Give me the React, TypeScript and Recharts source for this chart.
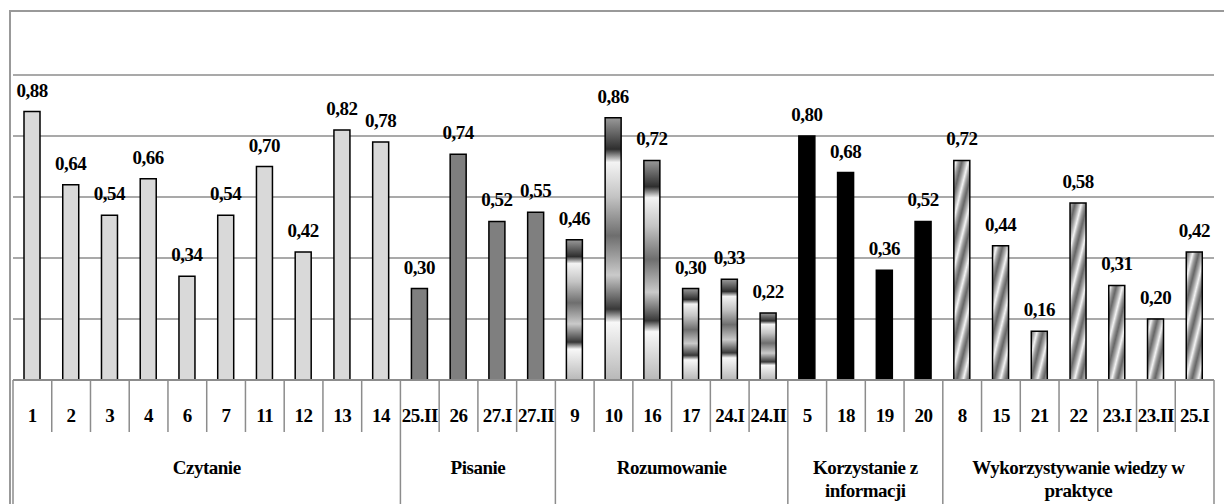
import React from "react";
import { Bar, BarChart, CartesianGrid, Cell, LabelList, XAxis, YAxis } from "recharts";

const itemLabels = [
  "1", "2", "3", "4", "6", "7", "11", "12", "13", "14",
  "25.II", "26", "27.I", "27.II",
  "9", "10", "16", "17", "24.I", "24.II",
  "5", "18", "19", "20",
  "8", "15", "21", "22", "23.I", "23.II", "25.I",
];
const itemValues = [
  0.88, 0.64, 0.54, 0.66, 0.34, 0.54, 0.7, 0.42, 0.82, 0.78,
  0.3, 0.74, 0.52, 0.55,
  0.46, 0.86, 0.72, 0.3, 0.33, 0.22,
  0.8, 0.68, 0.36, 0.52,
  0.72, 0.44, 0.16, 0.58, 0.31, 0.2, 0.42,
];
const groupNames = [
  "Czytanie",
  "Pisanie",
  "Rozumowanie",
  "Korzystanie z\ninformacji",
  "Wykorzystywanie wiedzy w\npraktyce",
];
const groupSizes = [10, 4, 6, 4, 7];
const groupFills = ["#d9d9d9", "#7f7f7f", "url(#gRoz)", "#000000", "url(#pDiag)"];
const yTicks = [0, 0.2, 0.4, 0.6, 0.8, 1];

const W = 1224;
const H = 504;
const AXIS_H = 124;
const M = { top: 75, right: 10, bottom: 0, left: 13 };
const BAND = (W - M.left - M.right) / itemLabels.length;
const FONT = "'Liberation Serif', 'Times New Roman', serif";
const LINE = "#8c8c8c";
const textStyle = { fontFamily: FONT, fontWeight: 700, fontSize: 19, letterSpacing: -0.5 };

// group index for each item, and first item of each group
const groupOf: number[] = [];
const groupStart: number[] = [];
groupSizes.forEach((n, g) => {
  groupStart.push(groupOf.length);
  for (let k = 0; k < n; k++) groupOf.push(g);
});

const data = itemLabels.map((label, i) => ({
  label,
  value: itemValues[i],
  group: groupOf[i],
}));

function GroupTick(props: any) {
  const { x, y, payload, index } = props;
  const g = groupOf[index];
  const left = x - BAND / 2;
  const right = x + BAND / 2;
  const isFirst = groupStart[g] === index;
  const isLast = groupStart[g] + groupSizes[g] - 1 === index;
  const bottom = H;
  let groupLabel = null;
  if (isFirst) {
    const cx = left + (groupSizes[g] * BAND) / 2;
    const lines = groupNames[g].split("\n");
    groupLabel = (
      <text x={cx} y={y + 94} textAnchor="middle" style={textStyle} fill="#000">
        {lines.map((ln, k) => (
          <tspan key={k} x={cx} dy={k === 0 ? 0 : 23}>
            {ln}
          </tspan>
        ))}
      </text>
    );
  }
  return (
    <g>
      {index === 0 && (
        <line x1={left} x2={left} y1={y} y2={bottom} stroke={LINE} strokeWidth={1.5} />
      )}
      <line
        x1={right}
        x2={right}
        y1={y}
        y2={isLast ? bottom : y + 52}
        stroke={LINE}
        strokeWidth={1.5}
      />
      <text x={x} y={y + 42} textAnchor="middle" style={textStyle} fill="#000">
        {payload.value}
      </text>
      {groupLabel}
    </g>
  );
}

function ValueLabel(props: any) {
  const { x, y, width, value } = props;
  return (
    <text x={x + width / 2} y={y - 15} textAnchor="middle" style={textStyle} fill="#000">
      {Number(value).toFixed(2).replace(".", ",")}
    </text>
  );
}

export default function App() {
  return (
    <div style={{ position: "fixed", left: 0, top: 0, width: W, height: H, background: "#fff" }}>
      <div
        style={{
          position: "absolute",
          left: 9,
          top: 10,
          width: W,
          height: H,
          borderLeft: "2px solid #999",
          borderTop: "2px solid #999",
        }}
      />
      <div style={{ position: "absolute", left: 0, top: 0 }}>
        <BarChart width={W} height={H} data={data} margin={M} barSize={16}>
          <defs>
            <linearGradient id="gRoz" x1="0" y1="0" x2="0" y2="1">
              <stop offset="0" stopColor="#9a9a9a" />
              <stop offset="0.12" stopColor="#2e2e2e" />
              <stop offset="0.17" stopColor="#f4f4f4" />
              <stop offset="0.3" stopColor="#c4c4c4" />
              <stop offset="0.45" stopColor="#6e6e6e" />
              <stop offset="0.6" stopColor="#cacaca" />
              <stop offset="0.73" stopColor="#383838" />
              <stop offset="0.78" stopColor="#f8f8f8" />
              <stop offset="1" stopColor="#b8b8b8" />
            </linearGradient>
            <linearGradient id="gStripe" x1="0" y1="0" x2="1" y2="0">
              <stop offset="0" stopColor="#5e5e5e" />
              <stop offset="0.3" stopColor="#a8a8a8" />
              <stop offset="0.55" stopColor="#f5f5f5" />
              <stop offset="0.75" stopColor="#a4a4a4" />
              <stop offset="1" stopColor="#6a6a6a" />
            </linearGradient>
            <pattern
              id="pDiag"
              patternUnits="userSpaceOnUse"
              width={12}
              height={80}
              patternTransform="rotate(14)"
            >
              <rect width={12} height={80} fill="url(#gStripe)" />
            </pattern>
          </defs>
          <CartesianGrid
            vertical={false}
            stroke={LINE}
            strokeWidth={1.5}
            horizontalValues={yTicks}
          />
          <YAxis hide domain={[0, 1]} ticks={yTicks} />
          <XAxis
            dataKey="label"
            height={AXIS_H}
            interval={0}
            tickLine={false}
            tickSize={0}
            tickMargin={0}
            axisLine={{ stroke: LINE, strokeWidth: 2 }}
            tick={<GroupTick />}
          />
          <Bar dataKey="value" stroke="#000" strokeWidth={1.5} isAnimationActive={false}>
            {data.map((d, i) => (
              <Cell key={i} fill={groupFills[d.group]} />
            ))}
            <LabelList dataKey="value" content={<ValueLabel />} />
          </Bar>
        </BarChart>
      </div>
    </div>
  );
}
